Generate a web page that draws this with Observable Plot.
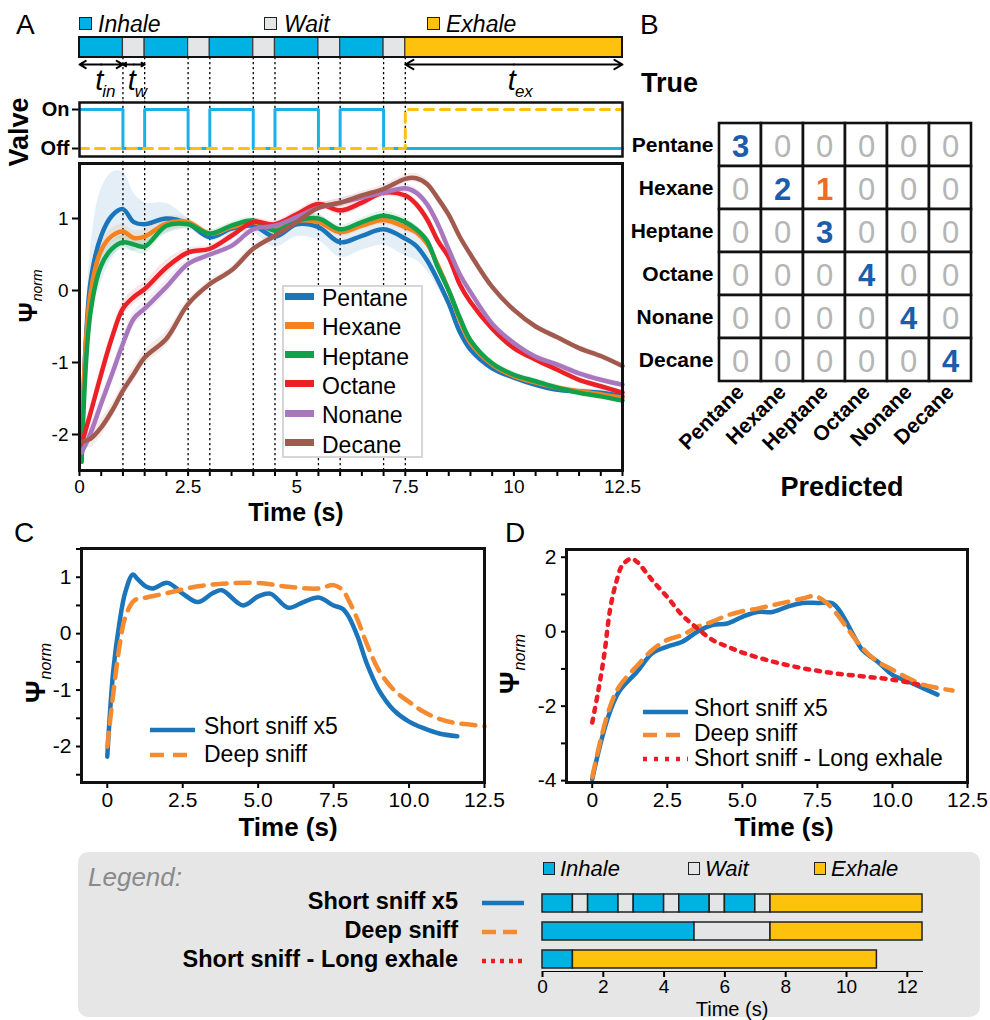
<!DOCTYPE html>
<html><head><meta charset="utf-8">
<script src="https://cdn.jsdelivr.net/npm/d3@7"></script>
<script src="https://cdn.jsdelivr.net/npm/@observablehq/plot@0.6"></script>
<style>
body{margin:0;background:#fff;}
#root{position:relative;width:990px;height:1020px;overflow:hidden;font-family:"Liberation Sans",Arial,Helvetica,sans-serif;color:#000;background:#fff;}
.thick [aria-label*="axis"] line, .thick [aria-label*="axis"] path{stroke-width:2px;}
.boldticks [aria-label*="axis"] text{font-weight:bold;}
</style></head>
<body><div id="root"></div>
<script>
// ---------------- DATA ----------------
const phaseNames = ["Inhale", "Wait", "Exhale"];
const phaseColors = ["#00b2e3", "#e4e5e6", "#fec10e"];

// Short sniff x5 schedule (panel A and legend row 1)
const segStart = [0, 1, 1.5, 2.5, 3, 4, 4.5, 5.5, 6, 7, 7.5];
const segEnd   = [1, 1.5, 2.5, 3, 4, 4.5, 5.5, 6, 7, 7.5, 12.5];
const segPhase = ["Inhale","Wait","Inhale","Wait","Inhale","Wait","Inhale","Wait","Inhale","Wait","Exhale"];
// Deep sniff schedule
const deepStart = [0, 5, 7.5];
const deepEnd   = [5, 7.5, 12.5];
const deepPhase = ["Inhale", "Wait", "Exhale"];
// Short sniff - long exhale schedule
const longStart = [0, 1];
const longEnd   = [1, 11];
const longPhase = ["Inhale", "Exhale"];

// Panel A: analytes
const analytes = ["Pentane", "Hexane", "Heptane", "Octane", "Nonane", "Decane"];
const analyteColors = ["#1b75bb", "#f6821f", "#12a14b", "#ec2027", "#a877be", "#a25a4e"];
const tA = [0.05,0.25,0.5,0.75,1,1.25,1.5,2,2.5,3,3.5,4,4.5,5,5.5,6,6.5,7,7.5,7.75,8,8.25,8.5,8.75,9,9.5,10,10.5,11,11.5,12,12.5];
const pentane = [-2.2,0.1,0.76,1.04,1.13,0.95,0.92,1.0,0.93,0.74,0.86,0.9,0.75,0.92,0.88,0.67,0.76,0.85,0.72,0.62,0.42,0.14,-0.18,-0.57,-0.82,-1.08,-1.21,-1.31,-1.38,-1.4,-1.42,-1.47];
const hexane  = [-2.1,-0.05,0.56,0.76,0.82,0.73,0.75,0.93,0.95,0.79,0.88,0.95,0.85,0.97,0.95,0.81,0.9,0.98,0.88,0.81,0.65,0.35,0.0,-0.4,-0.73,-1.03,-1.19,-1.28,-1.35,-1.4,-1.44,-1.49];
const heptane = [-2.38,-0.32,0.35,0.58,0.67,0.64,0.61,0.9,0.92,0.79,0.9,0.97,0.83,0.97,1.0,0.85,0.95,1.04,0.95,0.85,0.69,0.32,0.0,-0.37,-0.69,-1.01,-1.17,-1.26,-1.35,-1.42,-1.47,-1.53];
const octane  = [-2.13,-1.71,-1.16,-0.65,-0.25,-0.09,0.02,0.32,0.53,0.58,0.76,0.95,0.92,1.06,1.2,1.11,1.22,1.36,1.32,1.2,0.99,0.69,0.46,0.09,-0.16,-0.53,-0.8,-0.96,-1.1,-1.24,-1.33,-1.42];
const nonane  = [-2.25,-1.99,-1.57,-1.16,-0.74,-0.39,-0.25,0.05,0.37,0.5,0.62,0.85,0.9,1.02,1.15,1.22,1.29,1.36,1.42,1.36,1.2,0.92,0.57,0.23,-0.02,-0.46,-0.73,-0.92,-1.03,-1.15,-1.24,-1.31];
const decane  = [-2.1,-2.06,-1.9,-1.67,-1.39,-1.16,-0.93,-0.67,-0.19,0.09,0.28,0.58,0.76,0.95,1.15,1.22,1.32,1.41,1.55,1.56,1.48,1.28,1.05,0.75,0.5,0.05,-0.27,-0.5,-0.65,-0.8,-0.91,-1.05];
const pentaneSd = [0.1,0.45,0.65,0.6,0.52,0.4,0.3,0.21,0.08,0.05,0.07,0.1,0.15,0.17,0.18,0.21,0.2,0.22,0.24,0.2,0.15,0.1,0.07,0.05,0.05,0.04,0.04,0.04,0.04,0.04,0.04,0.04];
const otherSd   = [0.05,0.12,0.12,0.1,0.1,0.1,0.1,0.1,0.06,0.05,0.05,0.05,0.05,0.05,0.05,0.06,0.06,0.06,0.06,0.06,0.06,0.06,0.05,0.05,0.05,0.04,0.04,0.04,0.04,0.04,0.04,0.04];
const tickA = [0,0.5,1,1.5,2,2.5,3,3.5,4,4.5,5,5.5,6,6.5,7,7.5,8,8.5,9,9.5,10,10.5,11,11.5,12,12.5];
const tickALabels = [0, 2.5, 5, 7.5, 10, 12.5];

// Panel B: confusion matrix (rows = true, cols = predicted)
const cmValues = [
  [3,0,0,0,0,0],
  [0,2,1,0,0,0],
  [0,0,3,0,0,0],
  [0,0,0,4,0,0],
  [0,0,0,0,4,0],
  [0,0,0,0,0,4]
];

// Panel C
const cShortT = [0,0.2,0.4,0.6,0.85,1.0,1.3,1.5,2.0,2.5,3.0,3.5,3.8,4.5,5.0,5.4,6.0,6.5,7.0,7.5,7.8,8.0,8.3,8.6,9.0,9.5,10.0,10.5,11.0,11.6];
const cShortV = [-2.18,-0.65,0.18,0.74,1.05,0.97,0.83,0.8,0.9,0.71,0.56,0.72,0.77,0.5,0.66,0.71,0.46,0.56,0.64,0.5,0.44,0.3,-0.06,-0.53,-1.0,-1.36,-1.56,-1.68,-1.77,-1.82];
const cDeepT = [0,0.2,0.4,0.6,0.9,1.2,2.0,3.0,4.0,5.0,6.0,7.0,7.5,7.8,8.0,8.3,8.6,9.0,9.5,10.0,10.5,11.0,11.5,12.0,12.5];
const cDeepV = [-2.0,-1.06,-0.24,0.3,0.59,0.63,0.72,0.84,0.89,0.9,0.83,0.8,0.86,0.77,0.59,0.24,-0.18,-0.65,-1.0,-1.21,-1.39,-1.51,-1.58,-1.61,-1.64];

// Panel D
const dShortT = [0,0.3,0.6,0.9,1.5,2.0,2.5,3.0,3.5,4.0,4.5,5.0,5.5,6.0,6.5,7.0,7.5,8.0,8.3,8.7,9.0,9.5,10.0,10.5,11.0,11.5];
const dShortV = [-3.96,-2.93,-2.13,-1.6,-1.07,-0.58,-0.4,-0.27,0,0.18,0.22,0.4,0.53,0.53,0.67,0.77,0.77,0.76,0.49,-0.09,-0.49,-0.8,-1.16,-1.33,-1.51,-1.69];
const dDeepT = [0,0.3,0.6,0.9,1.5,2.0,2.5,3.0,3.5,4.0,4.5,5.0,5.5,6.0,6.5,7.0,7.4,7.7,8.0,8.5,9.0,9.5,10.0,10.5,11.0,11.5,12.0];
const dDeepV = [-3.91,-2.84,-2.0,-1.47,-0.91,-0.49,-0.22,-0.09,0.13,0.27,0.44,0.55,0.62,0.71,0.8,0.89,0.96,0.84,0.62,0.09,-0.44,-0.8,-1.02,-1.24,-1.42,-1.51,-1.58];
const dLongT = [0,0.2,0.4,0.6,0.8,1.0,1.3,1.5,2.0,2.5,3.0,3.5,4.0,4.5,5.0,6.0,7.0,8.0,9.0,10.0,11.0];
const dLongV = [-2.44,-1.6,-0.62,0.62,1.33,1.78,1.96,1.87,1.38,0.93,0.44,0.09,-0.22,-0.4,-0.56,-0.8,-0.98,-1.11,-1.2,-1.29,-1.44];
const timeTicksCD = [0, 2.5, 5, 7.5, 10, 12.5];

// Legend panel
const legendRows = ["Short sniff x5", "Deep sniff", "Short sniff - Long exhale"];
const legendTicks = [0, 2, 4, 6, 8, 10, 12];

// ---------------- HELPERS ----------------
const root = document.getElementById("root");
const FONT = '"Liberation Sans", Arial, Helvetica, sans-serif';
const baseStyle = {background: "transparent", overflow: "visible", fontFamily: FONT, color: "#000"};
function mount(svg, x, y, cls) {
  svg.style.position = "absolute"; svg.style.left = x + "px"; svg.style.top = y + "px";
  if (cls) cls.split(" ").forEach(c => svg.classList.add(c));
  root.appendChild(svg);
}
function lab(html, x, y, o = {}) {
  const d = document.createElement("div");
  d.innerHTML = html;
  const ax = o.anchor === "end" ? "-100%" : o.anchor === "middle" ? "-50%" : "0";
  const tr = o.rotate ? `translate(-50%,-50%) rotate(${o.rotate}deg)` : `translate(${ax},-50%)`;
  d.style.cssText = `position:absolute;left:${x}px;top:${y}px;white-space:nowrap;line-height:1;` +
    `font-size:${o.size || 20}px;font-weight:${o.weight || "normal"};font-style:${o.italic ? "italic" : "normal"};` +
    `color:${o.color || "#000"};transform:${tr};`;
  root.appendChild(d);
  return d;
}
function box(x, y, w, h, css) {
  const d = document.createElement("div");
  d.style.cssText = `position:absolute;left:${x}px;top:${y}px;width:${w}px;height:${h}px;box-sizing:border-box;` + css;
  root.appendChild(d);
  return d;
}
function lineSample(x1, x2, y, color, dash, w) {
  const ns = "http://www.w3.org/2000/svg";
  const s = document.createElementNS(ns, "svg");
  s.setAttribute("width", x2 - x1); s.setAttribute("height", 10);
  s.style.cssText = `position:absolute;left:${x1}px;top:${y - 5}px;overflow:visible`;
  const l = document.createElementNS(ns, "line");
  l.setAttribute("x1", 0); l.setAttribute("x2", x2 - x1); l.setAttribute("y1", 5); l.setAttribute("y2", 5);
  l.setAttribute("stroke", color); l.setAttribute("stroke-width", w);
  if (dash) l.setAttribute("stroke-dasharray", dash);
  s.appendChild(l); root.appendChild(s);
}
const dotted = {stroke: "#000", strokeWidth: 1.3, strokeDasharray: "2.2,2.8"};
const toRows = (T, V) => T.map((t, i) => ({t, v: V[i]}));

// ---------------- PANEL A ----------------
const segsA = segStart.map((s, i) => ({start: s, end: segEnd[i], phase: segPhase[i]}));
const boundaries = segEnd.slice(0, -1);
const arrowDefs = [[segsA[0], "in"], [segsA[1], "w"], [segsA[segsA.length - 1], "ex"]]
  .map(([s, sub]) => ({start: s.start, end: s.end, mid: (s.start + s.end) / 2, sub}));
const arrowHalves = arrowDefs.flatMap(a => [{x1: a.mid, x2: a.start}, {x1: a.mid, x2: a.end}]);

mount(Plot.plot({
  width: 640, height: 100, marginLeft: 79, marginRight: 18, marginTop: 37, marginBottom: 43,
  x: {domain: [0, 12.5], axis: null},
  y: {domain: [0, 1], axis: null},
  color: {domain: phaseNames, range: phaseColors},
  style: {...baseStyle},
  marks: [
    Plot.ruleX(boundaries, {y1: 0, y2: -2.15, ...dotted}),
    Plot.rect(segsA, {x1: "start", x2: "end", y1: 0, y2: 1, fill: "phase", stroke: "#3a3a3a", strokeWidth: 1.2}),
    Plot.rect([{s: segStart[0], e: segEnd[segEnd.length - 1]}], {x1: "s", x2: "e", y1: 0, y2: 1, fill: "none", stroke: "#111", strokeWidth: 2}),
    Plot.arrow(arrowHalves, {x1: "x1", x2: "x2", y1: -0.35, y2: -0.35, stroke: "#000", strokeWidth: 2, headLength: 7}),
    Plot.text(arrowDefs, {x: "mid", y: -1.15, text: () => "t", textAnchor: "end", dx: 2, fontSize: 29, fontStyle: "italic"}),
    Plot.text(arrowDefs, {x: "mid", y: -1.15, text: "sub", textAnchor: "start", dx: 1, dy: 11, fontSize: 17, fontStyle: "italic"})
  ]
}), 0, 0);

const inhaleValve = segsA.flatMap(s => [{t: s.start, v: s.phase === "Inhale" ? 1 : 0}, {t: s.end, v: s.phase === "Inhale" ? 1 : 0}]);
const exhaleValve = segsA.flatMap(s => [{t: s.start, v: s.phase === "Exhale" ? 1 : 0}, {t: s.end, v: s.phase === "Exhale" ? 1 : 0}]);
mount(Plot.plot({
  width: 640, height: 70, marginLeft: 79, marginRight: 18, marginTop: 7, marginBottom: 9,
  x: {domain: [0, 12.5], axis: null},
  y: {domain: [-0.205, 1.18], ticks: [0, 1], tickFormat: d => d === 1 ? "On" : "Off", tickSize: 7, tickPadding: 3, label: null},
  style: {...baseStyle, fontSize: "20px"},
  marks: [
    Plot.ruleX(boundaries, {y1: -0.385, y2: 1.23, ...dotted}),
    Plot.line(inhaleValve, {x: "t", y: "v", stroke: "#1ab2e6", strokeWidth: 3}),
    Plot.line(exhaleValve, {x: "t", y: "v", stroke: "#fdc010", strokeWidth: 3, strokeDasharray: "9,7"}),
    Plot.frame({stroke: "#111", strokeWidth: 2.5})
  ]
}), 0, 95, "thick boldticks");

const seriesVals = [pentane, hexane, heptane, octane, nonane, decane];
const seriesSd = [pentaneSd, otherSd, otherSd, otherSd, otherSd, otherSd];
const rowsA = analytes.flatMap((n, k) => tA.map((t, i) => ({name: n, t, v: seriesVals[k][i], sd: seriesSd[k][i]})));
mount(Plot.plot({
  width: 640, height: 360, marginLeft: 79, marginRight: 18, marginTop: 3, marginBottom: 50,
  x: {domain: [0, 12.5], ticks: tickA, tickFormat: d => tickALabels.includes(d) ? String(d) : "", tickSize: 6, tickPadding: 3, label: null},
  y: {domain: [-2.5, 1.764], ticks: [-2, -1, 0, 1], tickFormat: d => String(d), tickSize: 7, tickPadding: 4, label: null},
  color: {domain: analytes, range: analyteColors},
  style: {...baseStyle, fontSize: "19px"},
  marks: [
    Plot.areaY(rowsA, {x: "t", y1: d => d.v - d.sd, y2: d => d.v + d.sd, z: "name", fill: "name", fillOpacity: 0.12, curve: "catmull-rom"}),
    Plot.ruleX(boundaries, dotted),
    Plot.line(rowsA, {x: "t", y: "v", z: "name", stroke: "name", strokeWidth: 4.5, curve: "catmull-rom"}),
    Plot.frame({stroke: "#111", strokeWidth: 3})
  ]
}), 0, 160, "thick");

// Panel A HTML texts
lab("A", 16, 25, {size: 28});
[[79, "Inhale", 98], [264, "Wait", 284], [427, "Exhale", 446]].forEach(([sx, name, tx]) => {
  box(sx, 17, 13, 13, `background:${phaseColors[phaseNames.indexOf(name)]};border:1.5px solid #222;`);
  lab(name, tx, 24, {size: 23, italic: true});
});
lab("Valve", 19, 132, {size: 27, weight: "bold", rotate: -90});
lab('<b>Ψ</b><i style="font-size:14px;position:relative;top:5px;margin-left:1px">norm</i>', 28, 296, {size: 25, rotate: -90});
lab("Time (s)", 296, 512, {size: 25, weight: "bold", anchor: "middle"});
box(282, 285, 141, 173, "background:#fff;border:2px solid #d6d6d6;");
analytes.forEach((n, i) => {
  const cy = 296 + 29.3 * i;
  box(285, cy - 3.5, 29, 7, `background:${analyteColors[i]};`);
  lab(n, 322, cy + 2, {size: 23});
});

// ---------------- PANEL B ----------------
const cmRows = cmValues.flatMap((row, i) => row.map((n, j) => ({truth: analytes[i], pred: analytes[j], n})));
mount(Plot.plot({
  width: 360, height: 420, marginLeft: 88, marginRight: 19, marginTop: 22, marginBottom: 139,
  x: {domain: analytes, padding: 0, tickRotate: -45, tickSize: 0, tickPadding: 7, label: null},
  y: {domain: analytes, padding: 0, tickSize: 0, tickPadding: 5, label: null},
  style: {...baseStyle, fontSize: "21px"},
  marks: [
    Plot.cell(cmRows, {x: "pred", y: "truth", fill: "#fff", stroke: "#111", strokeWidth: 2.6}),
    Plot.text(cmRows.filter(d => d.n === 0), {x: "pred", y: "truth", text: d => String(d.n), fill: "#b5b5b5", fontSize: 31, dy: 2}),
    Plot.text(cmRows.filter(d => d.n > 0 && d.pred === d.truth), {x: "pred", y: "truth", text: d => String(d.n), fill: "#1b5cab", fontSize: 31, fontWeight: "bold", dy: 2}),
    Plot.text(cmRows.filter(d => d.n > 0 && d.pred !== d.truth), {x: "pred", y: "truth", text: d => String(d.n), fill: "#f26b22", fontSize: 31, fontWeight: "bold", dy: 2})
  ]
}), 630, 100, "boldticks");
lab("B", 640, 25, {size: 28});
lab("True", 641, 83, {size: 27, weight: "bold"});
lab("Predicted", 842, 487, {size: 27, weight: "bold", anchor: "middle"});

// ---------------- PANEL C ----------------
const fmtCD = d => d === 0 ? "0" : d.toFixed(1);
mount(Plot.plot({
  width: 500, height: 310, marginLeft: 81, marginRight: 16, marginTop: 18, marginBottom: 58,
  x: {domain: [-0.854, 12.5], ticks: timeTicksCD, tickFormat: fmtCD, tickSize: 6, tickPadding: 4, label: null},
  y: {domain: [-2.638, 1.509], ticks: [-2.5, -2, -1.5, -1, -0.5, 0, 0.5, 1, 1.5], tickFormat: d => Number.isInteger(d) ? String(d) : "", tickSize: 5, tickPadding: 5, label: null},
  style: {...baseStyle, fontSize: "21px"},
  marks: [
    Plot.line(toRows(cShortT, cShortV), {x: "t", y: "v", stroke: "#1a75bb", strokeWidth: 4.5, curve: "catmull-rom"}),
    Plot.line(toRows(cDeepT, cDeepV), {x: "t", y: "v", stroke: "#f58b31", strokeWidth: 4.5, strokeDasharray: "14,9", curve: "catmull-rom"}),
    Plot.frame({stroke: "#111", strokeWidth: 3})
  ]
}), 0, 530, "thick");
lab("C", 14, 533, {size: 28});
lab('<b>Ψ</b><i style="font-size:16px;position:relative;top:6px;margin-left:1px">norm</i>', 36, 673, {size: 28, rotate: -90});
lab("Time (s)", 288, 827, {size: 26, weight: "bold", anchor: "middle"});
lineSample(150, 195, 730, "#1a75bb", null, 4.5);
lineSample(150, 195, 755, "#f58b31", "14,9", 4.5);
lab("Short sniff x5", 204, 726, {size: 23});
lab("Deep sniff", 204, 754, {size: 23});

// ---------------- PANEL D ----------------
mount(Plot.plot({
  width: 500, height: 310, marginLeft: 76, marginRight: 23, marginTop: 19, marginBottom: 58,
  x: {domain: [-0.857, 12.5], ticks: timeTicksCD, tickFormat: fmtCD, tickSize: 6, tickPadding: 4, label: null},
  y: {domain: [-4.05, 2.207], ticks: [-4, -3, -2, -1, 0, 1, 2], tickFormat: d => d % 2 === 0 ? String(d) : "", tickSize: 5, tickPadding: 5, label: null},
  style: {...baseStyle, fontSize: "21px"},
  marks: [
    Plot.line(toRows(dShortT, dShortV), {x: "t", y: "v", stroke: "#1a75bb", strokeWidth: 4.5, curve: "catmull-rom"}),
    Plot.line(toRows(dDeepT, dDeepV), {x: "t", y: "v", stroke: "#f58b31", strokeWidth: 4.5, strokeDasharray: "14,9", curve: "catmull-rom"}),
    Plot.line(toRows(dLongT, dLongV), {x: "t", y: "v", stroke: "#ed1c24", strokeWidth: 4.5, strokeDasharray: "4,7", curve: "catmull-rom"}),
    Plot.frame({stroke: "#111", strokeWidth: 3})
  ]
}), 490, 530, "thick");
lab("D", 505, 533, {size: 28});
lab('<b>Ψ</b><i style="font-size:16px;position:relative;top:6px;margin-left:1px">norm</i>', 510, 664, {size: 28, rotate: -90});
lab("Time (s)", 784, 827, {size: 26, weight: "bold", anchor: "middle"});
lineSample(643, 688, 712, "#1a75bb", null, 4.5);
lineSample(643, 688, 735, "#f58b31", "14,9", 4.5);
lineSample(643, 688, 759, "#ed1c24", "4,7", 4.5);
lab("Short sniff x5", 694, 708, {size: 23});
lab("Deep sniff", 694, 733, {size: 23});
lab("Short sniff - Long exhale", 694, 758, {size: 23});

// ---------------- LEGEND PANEL ----------------
box(78, 852, 902, 165, "background:#e6e6e6;border-radius:10px;");
lab("Legend:", 88, 877, {size: 26, italic: true, color: "#8a8a8a"});
[[543, "Inhale", 560], [688, "Wait", 705], [814, "Exhale", 831]].forEach(([sx, name, tx]) => {
  box(sx, 862, 12, 13, `background:${phaseColors[phaseNames.indexOf(name)]};border:1.5px solid #222;`);
  lab(name, tx, 869, {size: 22, italic: true});
});
const rowY = [902, 931, 960];
legendRows.forEach((r, i) => lab(r, 458, rowY[i], {size: 23.5, weight: "bold", anchor: "end"}));
lineSample(482, 524, rowY[0] + 1, "#1a75bb", null, 4.5);
lineSample(482, 524, rowY[1] + 1, "#f58b31", "14,7", 4.5);
lineSample(482, 524, rowY[2] + 1, "#ed1c24", "4,5", 4.5);

const legendSegs = [
  ...segsA.map(s => ({...s, row: legendRows[0]})),
  ...deepStart.map((s, i) => ({start: s, end: deepEnd[i], phase: deepPhase[i], row: legendRows[1]})),
  ...longStart.map((s, i) => ({start: s, end: longEnd[i], phase: longPhase[i], row: legendRows[2]}))
];
mount(Plot.plot({
  width: 420, height: 140, marginLeft: 12, marginRight: 28, marginTop: 10, marginBottom: 49,
  x: {domain: [0, 12.5], ticks: legendTicks, tickFormat: d => String(d), tickSize: 6, tickPadding: 2, line: true, label: null},
  y: {domain: legendRows, paddingInner: 0.368, paddingOuter: 0.1, axis: null},
  color: {domain: phaseNames, range: phaseColors},
  style: {...baseStyle, fontSize: "19px"},
  marks: [
    Plot.barX(legendSegs, {x1: "start", x2: "end", y: "row", fill: "phase", stroke: "#222", strokeWidth: 1.5})
  ]
}), 530, 880, "thick");
lab("Time (s)", 732, 1009, {size: 20, anchor: "middle"});
</script>
</body></html>
